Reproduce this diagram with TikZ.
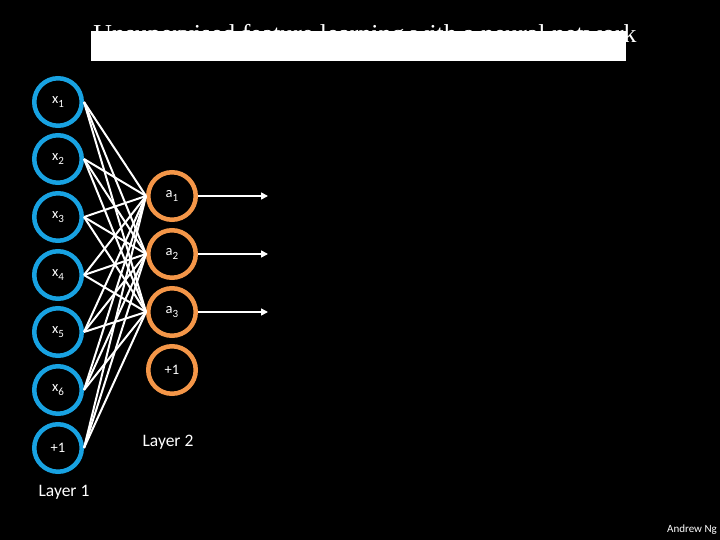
\documentclass[tikz,border=0pt]{standalone}
\usepackage{fontspec}
\setmainfont{Carlito}
\newfontfamily\titlefont{Liberation Serif}
\usetikzlibrary{arrows.meta}
\definecolor{inblue}{RGB}{24,162,226}
\definecolor{hidorange}{RGB}{244,150,72}
\newcommand\lsub[1]{\raisebox{-3.5pt}{\fontsize{11}{12}\selectfont #1}}
\begin{document}
\begin{tikzpicture}[x=1pt,y=-1pt,
  incircle/.style={circle,draw=inblue,line width=4.5pt,minimum size=47.5pt,inner sep=0pt,text=white,font=\fontsize{14.5}{16}\selectfont},
  hidcircle/.style={circle,draw=hidorange,line width=4.5pt,minimum size=47.5pt,inner sep=0pt,text=white,font=\fontsize{14.5}{16}\selectfont},
  edge/.style={draw=white,line width=2pt},
  outarrow/.style={draw=white,line width=1.6pt,-{Triangle[length=7pt,width=7pt]}},
  lbl/.style={text=white,font=\fontsize{17.5}{20}\selectfont,inner sep=0pt}]
\fill[black] (0,0) rectangle (720,540);
\useasboundingbox (0,0) rectangle (720,540);
\node[font=\titlefont\fontsize{25.8}{30}\selectfont,text=white,anchor=base,inner sep=0pt] (title) at (365,42.5) {Unsupervised feature learning with a neural network};
\node[fill=white,anchor=north west,minimum width=535pt,minimum height=30pt,inner sep=0pt] (cover) at (91,31) {};
% input layer
\node[incircle] (x1) at (58,102) {\raisebox{2.5pt}{x\lsub{1}}};
\node[incircle] (x2) at (58,159) {\raisebox{2.5pt}{x\lsub{2}}};
\node[incircle] (x3) at (58,217) {\raisebox{2.5pt}{x\lsub{3}}};
\node[incircle] (x4) at (58,275) {\raisebox{2.5pt}{x\lsub{4}}};
\node[incircle] (x5) at (58,332) {\raisebox{2.5pt}{x\lsub{5}}};
\node[incircle] (x6) at (58,390) {\raisebox{2.5pt}{x\lsub{6}}};
\node[incircle] (x7) at (58,448) {+1};
% hidden layer
\node[hidcircle] (a1) at (172,196) {a\lsub{1}};
\node[hidcircle] (a2) at (172,254) {a\lsub{2}};
\node[hidcircle] (a3) at (172,312) {a\lsub{3}};
\node[hidcircle] (a4) at (172,370) {+1};
% edges
\foreach \i in {1,...,7}{
  \foreach \j in {1,2,3}{
    \draw[edge] (x\i.east) -- (a\j.west);
  }
}
% outputs
\coordinate (o1) at (268,196);
\coordinate (o2) at (268,254);
\coordinate (o3) at (268,312);
\foreach \j in {1,2,3}{
  \draw[outarrow] (a\j.east) -- (o\j);
}
\node[lbl] (l1) at (64,492) {Layer 1};
\node[lbl] (l2) at (168,442) {Layer 2};
\node[text=white,font=\fontsize{11}{13}\selectfont,inner sep=0pt] (author) at (692,530) {Andrew Ng};
\end{tikzpicture}
\end{document}
